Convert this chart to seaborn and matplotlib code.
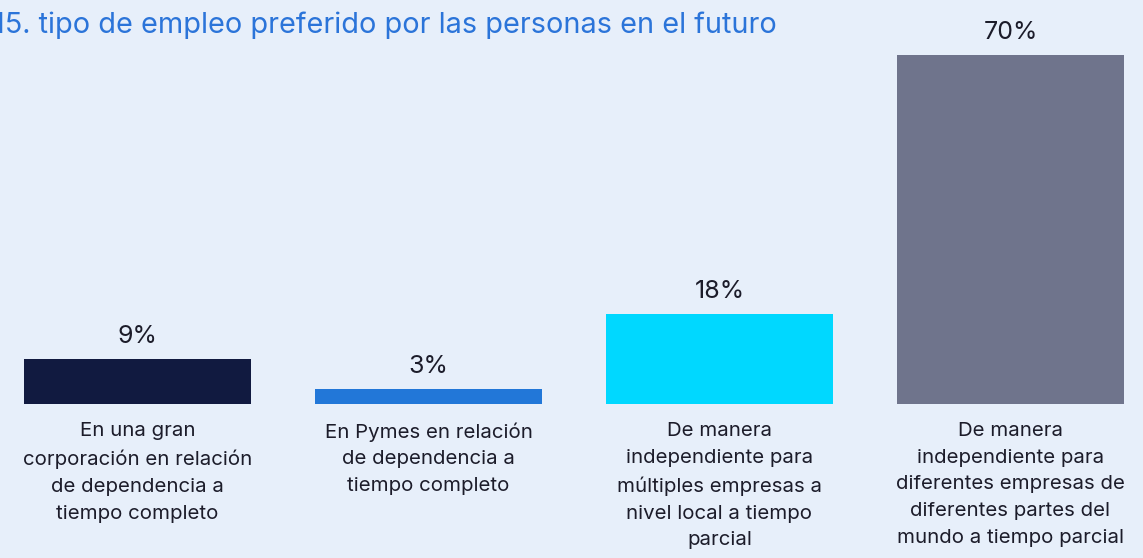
import matplotlib
matplotlib.use("Agg")
import matplotlib.pyplot as plt
import seaborn as sns
import pandas as pd

categories = [
    "En una gran\ncorporación en relación\nde dependencia a\ntiempo completo",
    "En Pymes en relación\nde dependencia a\ntiempo completo",
    "De manera\nindependiente para\nmúltiples empresas a\nnivel local a tiempo\nparcial",
    "De manera\nindependiente para\ndiferentes empresas de\ndiferentes partes del\nmundo a tiempo parcial",
]
values = [9, 3, 18, 70]
value_labels = ["9%", "3%", "18%", "70%"]
title = "15. tipo de empleo preferido por las personas en el futuro"

bar_colors = ["#111a40", "#2277d8", "#00d8ff", "#6f748c"]
bg = "#e7effa"
text_color = "#1c1c2a"
title_color = "#2b74d9"

sns.set_theme(style="white")
plt.rcParams["font.family"] = ["Inter", "DejaVu Sans"]

W, H = 1143, 558
fig = plt.figure(figsize=(W / 100, H / 100), dpi=100)
fig.patch.set_facecolor(bg)
base = 154
ax = fig.add_axes([0, base / H, 1, (H - base) / H])
ax.set_facecolor(bg)

df = pd.DataFrame({"cat": categories, "val": values})
sns.barplot(data=df, x="cat", y="val", hue="cat", palette=bar_colors,
            width=0.777, legend=False, ax=ax, saturation=1, linewidth=0)

ax.set_xlim(-137.5 / 291, (W - 137.5) / 291)
ax.set_ylim(0, (H - base) / 4.99)

for p, lab in zip(ax.patches, value_labels):
    ax.annotate(lab, (p.get_x() + p.get_width() / 2, p.get_height()),
                xytext=(0, 8), textcoords="offset points",
                ha="center", va="bottom", fontsize=18, color=text_color)

ax.set_xlabel("")
ax.set_ylabel("")
ax.set_yticks([])
ax.tick_params(axis="x", length=0, pad=13)
for t in ax.get_xticklabels():
    t.set_fontsize(14.7)
    t.set_color(text_color)
    t.set_linespacing(1.62)
    t.set_va("top")
for s in ax.spines.values():
    s.set_visible(False)

fig.text(-0.006, 1 - 33 / H, title, ha="left", va="baseline",
         fontsize=20.8, color=title_color)

fig.savefig("out.png", dpi=100, facecolor=bg)
